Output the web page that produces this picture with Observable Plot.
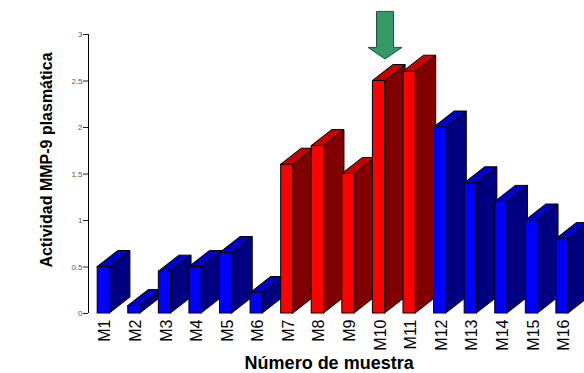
<!DOCTYPE html>
<html>
<head>
<meta charset="utf-8">
<script src="https://cdn.jsdelivr.net/npm/d3@7"></script>
<script src="https://cdn.jsdelivr.net/npm/@observablehq/plot@0.6"></script>
<style>
  html, body { margin: 0; padding: 0; background: #fff; }
  svg { display: block; }
</style>
</head>
<body>
<script>
// Plasma MMP-9 activity per sample
const samples = ["M1","M2","M3","M4","M5","M6","M7","M8","M9","M10","M11","M12","M13","M14","M15","M16"];
const activity = [0.5, 0.08, 0.45, 0.5, 0.65, 0.22, 1.6, 1.8, 1.5, 2.5, 2.6, 2.0, 1.4, 1.2, 1.0, 0.8];
// samples shown in red
const highSamples = ["M7","M8","M9","M10","M11"];
// sample marked with the arrow
const marked = "M10";
const yTicks = [0, 0.5, 1, 1.5, 2, 2.5, 3];

// 3D bar geometry (x in sample-index units, y in activity units)
const HALF = 0.2;      // half width of the front face
const DEPTH_X = 0.67;  // horizontal depth of the box
const DEPTH_Y = 0.172; // vertical depth of the box

const palette = {
  blue: {front: "#0000ff", side: "#000080", top: "#0000c8"},
  red:  {front: "#ff0000", side: "#800000", top: "#c80000"}
};

const bars = samples.map((s, k) => {
  const tone = highSamples.includes(s) ? palette.red : palette.blue;
  return {sample: s, i: k + 1, value: activity[k], tone};
});

// side faces: parallelograms on the right of each front face
const sides = bars.flatMap(b => [
  {i: b.i, x: b.i + HALF, y1: 0, y2: b.value, fill: b.tone.side},
  {i: b.i, x: b.i + HALF + DEPTH_X, y1: DEPTH_Y, y2: b.value + DEPTH_Y, fill: b.tone.side}
]);

// top faces: parallelograms above each front face
const tops = bars.flatMap(b => [
  {i: b.i, y: b.value, x1: b.i - HALF, x2: b.i + HALF, fill: b.tone.top},
  {i: b.i, y: b.value + DEPTH_Y, x1: b.i - HALF + DEPTH_X, x2: b.i + HALF + DEPTH_X, fill: b.tone.top}
]);

// block arrow pointing down, tip at the origin
const arrowSymbol = {
  draw(ctx) {
    ctx.moveTo(0, 0);
    ctx.lineTo(-17, -11.6);
    ctx.lineTo(-8.5, -11.6);
    ctx.lineTo(-8.5, -47.6);
    ctx.lineTo(8.5, -47.6);
    ctx.lineTo(8.5, -11.6);
    ctx.lineTo(17, -11.6);
    ctx.closePath();
  }
};

const chart = Plot.plot({
  width: 584,
  height: 373,
  marginTop: 34,
  marginBottom: 60,
  marginLeft: 88,
  marginRight: 6.7,
  style: {fontFamily: "'Liberation Sans', Arial, sans-serif", background: "#fff"},
  x: {type: "linear", domain: [0.5, 16.5], axis: null},
  y: {domain: [0, 3], axis: null},
  color: {type: "identity"},
  marks: [
    // y axis
    Plot.ruleX([0.5], {y1: 0, y2: 3, stroke: "#000", strokeWidth: 1}),
    Plot.axisY({ticks: yTicks, tickFormat: d => String(d), tickSize: 5, tickPadding: 1, fontSize: 8, fill: "#555", stroke: "#222", label: null}),
    // boxes
    Plot.areaY(sides, {x: "x", y1: "y1", y2: "y2", z: "i", fill: "fill", stroke: "#000", strokeWidth: 1, strokeLinejoin: "round"}),
    Plot.areaX(tops, {y: "y", x1: "x1", x2: "x2", z: "i", fill: "fill", stroke: "#000", strokeWidth: 1, strokeLinejoin: "round"}),
    Plot.rect(bars, {x1: d => d.i - HALF, x2: d => d.i + HALF, y1: 0, y2: "value", fill: d => d.tone.front, stroke: "#000", strokeWidth: 1}),
    // sample labels
    Plot.text(bars, {x: "i", text: "sample", frameAnchor: "bottom", rotate: -90, textAnchor: "end", lineAnchor: "middle", dx: 1.5, dy: 6, fontSize: 16, fill: "#000"}),
    // arrow on the marked sample
    Plot.dot(bars.filter(b => b.sample === marked), {x: "i", y: "value", symbol: arrowSymbol, dx: 6, dy: -22, fill: "#339966", stroke: "#24503a", strokeWidth: 1}),
    // axis titles
    Plot.text(["Número de muestra"], {frameAnchor: "bottom", textAnchor: "middle", lineAnchor: "middle", dx: -4, dy: 50, fontSize: 18, fontWeight: "bold", fill: "#000"}),
    Plot.text(["Actividad MMP-9 plasmática"], {frameAnchor: "left", textAnchor: "middle", lineAnchor: "middle", rotate: -90, dx: -42, dy: -14, fontSize: 16, fontWeight: "bold", fill: "#000"})
  ]
});

document.body.appendChild(chart);
</script>
</body>
</html>
